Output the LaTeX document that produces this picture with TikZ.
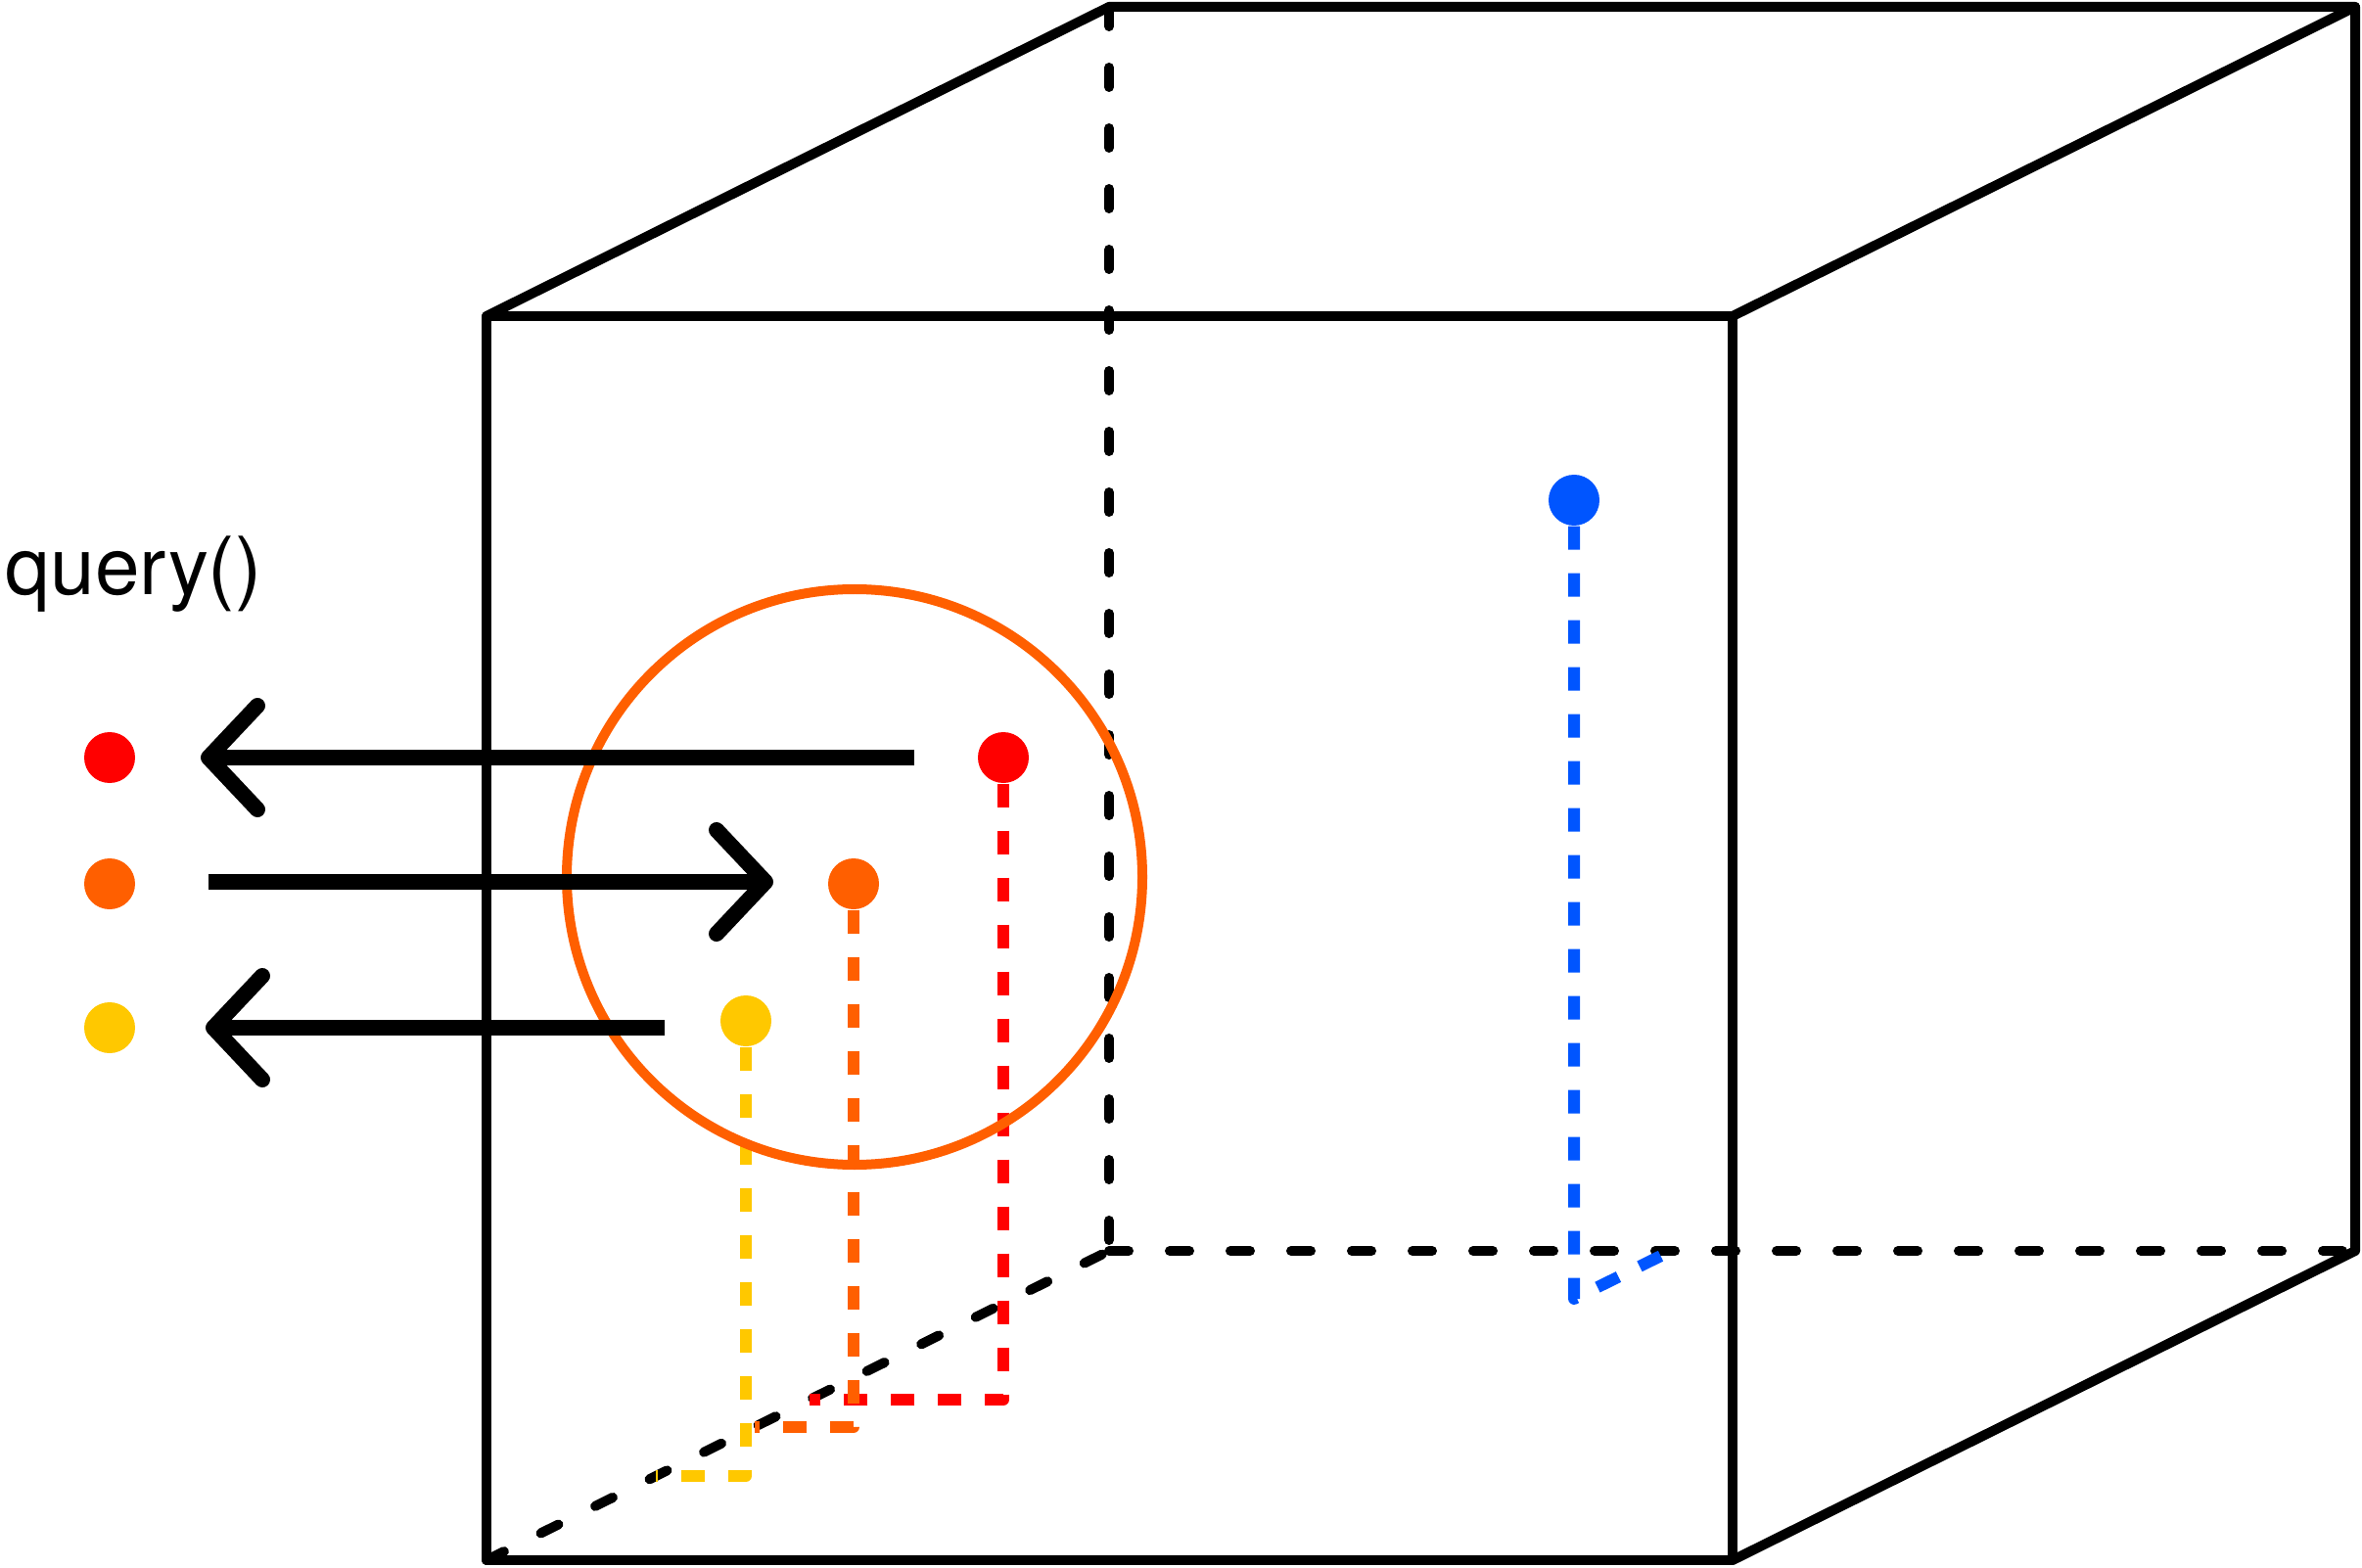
\documentclass[tikz,border=0pt]{standalone}
\usepackage{fontspec}
\setmainfont{TeX Gyre Heros}
\usetikzlibrary{arrows.meta}
\definecolor{qred}{HTML}{FF0000}
\definecolor{qorange}{HTML}{FF5F00}
\definecolor{qyellow}{HTML}{FFC800}
\definecolor{qblue}{HTML}{0055FF}

\begin{document}
\begin{tikzpicture}[>={Straight Barb[length=.5cm,width=1.06cm,round]},
  edge/.style={line width=1mm,line join=round,line cap=round},
  hidden/.style={line width=1mm,line cap=round,dash pattern=on .2cm off .42cm},
  proj/.style={line width=1.2mm,dash pattern=on .24cm off .24cm,line join=round},
  pt/.style={circle,fill=#1,inner sep=0pt,minimum size=.52cm},
  flow/.style={line width=1.6mm}]
\useasboundingbox (0,0) rectangle (24.13,16.01);
% cube
\coordinate (fbl) at (4.97,0.07);
\coordinate (fbr) at (17.70,0.07);
\coordinate (ftl) at (4.97,12.78);
\coordinate (ftr) at (17.70,12.78);
\coordinate (bbl) at (11.33,3.23);
\coordinate (bbr) at (24.06,3.23);
\coordinate (btl) at (11.33,15.94);
\coordinate (btr) at (24.06,15.94);
\draw[hidden] (btl)--(bbl);
\draw[hidden] (bbl)--(bbr);
\draw[hidden] (fbl)--(bbl);
\draw[edge] (fbl)--(fbr)--(ftr)--(ftl)--cycle;
\draw[edge] (ftl)--(btl)--(btr)--(ftr);
\draw[edge] (btr)--(bbr)--(fbr);
% stored points
\node[pt=qred] (redp) at (10.25,8.27) {};
\node[pt=qorange] (orangep) at (8.72,6.98) {};
\node[pt=qyellow] (yellowp) at (7.62,5.58) {};
\node[pt=qblue] (bluep) at (16.08,10.90) {};
\coordinate (redf) at (10.25,1.71);
\coordinate (redw) at (8.27,1.71);
\coordinate (orangef) at (8.72,1.43);
\coordinate (orangew) at (7.71,1.43);
\coordinate (yellowf) at (7.62,0.93);
\coordinate (yelloww) at (6.70,0.93);
\coordinate (bluef) at (16.08,2.74);
\coordinate (bluew) at (17.07,3.23);
\draw[proj,qred] (redp)--(redf)--(redw);
\draw[proj,qorange] (orangep)--(orangef)--(orangew);
\draw[proj,qyellow] (yellowp)--(yellowf)--(yelloww);
\draw[proj,qblue] (bluep)--(bluef)--(bluew);
% query range
\node[draw=qorange,line width=1mm,circle,inner sep=0pt,minimum size=5.88cm] (range) at (8.73,7.05) {};
% results
\coordinate (reds) at (9.34,8.27);
\coordinate (rede) at (2.05,8.27);
\coordinate (oranges) at (2.13,7.00);
\coordinate (orangee) at (7.90,7.00);
\coordinate (yellows) at (6.79,5.51);
\coordinate (yellowe) at (2.10,5.51);
\draw[flow,->] (reds)--(rede);
\draw[flow,->] (oranges)--(orangee);
\draw[flow,->] (yellows)--(yellowe);
\node[pt=qred] (redq) at (1.12,8.27) {};
\node[pt=qorange] (orangeq) at (1.12,6.98) {};
\node[pt=qyellow] (yellowq) at (1.12,5.51) {};
\node[anchor=base west,inner sep=0pt,font=\fontsize{23.3}{28}\selectfont] (query) at (0.05,9.93) {query()};
\end{tikzpicture}
\end{document}
